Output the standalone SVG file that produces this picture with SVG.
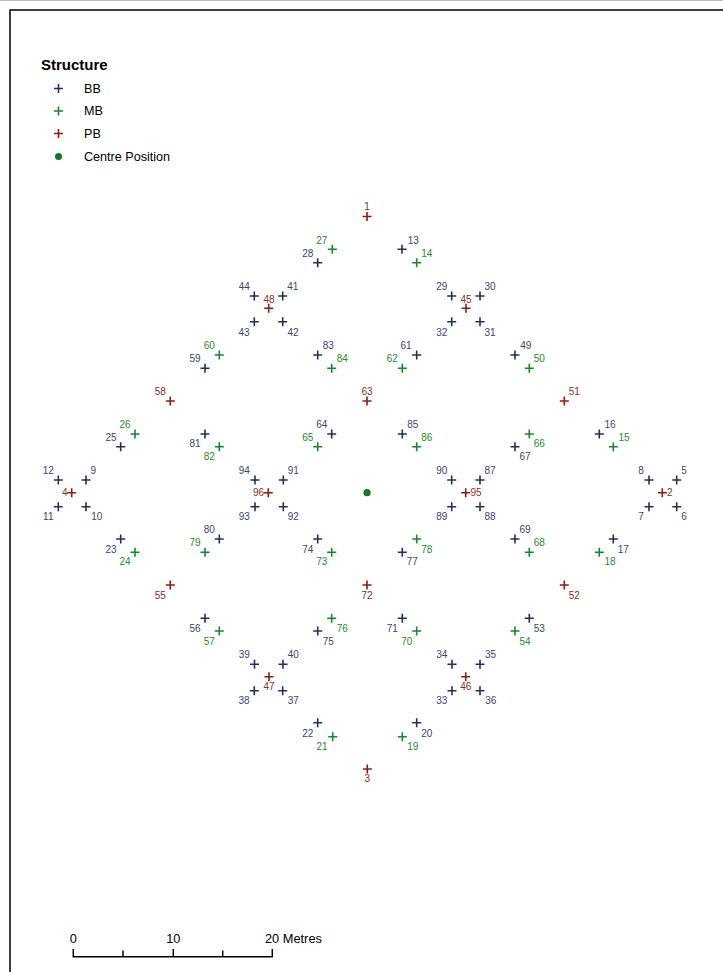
<svg xmlns="http://www.w3.org/2000/svg" xmlns:xlink="http://www.w3.org/1999/xlink" width="723" height="972" viewBox="0 0 723 972">
<style>
.bg{fill:#ffffff}
.frame{fill:none;stroke:#000;stroke-width:1.5}
.bb{stroke:#22305e;stroke-width:1.6;fill:none}
.mb{stroke:#17882a;stroke-width:1.6;fill:none}
.pb{stroke:#8a1c10;stroke-width:1.6;fill:none}
.t{font-family:"Liberation Sans",Arial,sans-serif;font-size:10px;text-anchor:middle}
.s{text-anchor:start}
.e{text-anchor:end}
.tb{fill:#3a4670}
.tm{fill:#2a8a2c}
.tp{fill:#8a3020}
.leg{font-family:"Liberation Sans",Arial,sans-serif;font-size:12.6px;fill:#000}
.title{font-family:"Liberation Sans",Arial,sans-serif;font-size:15px;font-weight:bold;fill:#000}
.scale{stroke:#000;stroke-width:1.5;fill:none}
.stxt{font-family:"Liberation Sans",Arial,sans-serif;font-size:12.8px;fill:#000}
</style>
<defs>
<path id="x" d="M-4.5,0H4.5M0,-4.5V4.5"/>
</defs>
<rect class="bg" x="0" y="0" width="723" height="972"/>
<line x1="0" y1="0.5" x2="723" y2="0.5" stroke="#c0c0c0" stroke-width="1"/>
<rect class="frame" x="10" y="10" width="760" height="1000"/>

<g id="legend">
<text class="title" x="41" y="70">Structure</text>
<use href="#x" class="bb" x="58.5" y="88.5"/>
<text class="leg" x="84" y="92.7">BB</text>
<use href="#x" class="mb" x="58.5" y="111"/>
<text class="leg" x="84" y="115.2">MB</text>
<use href="#x" class="pb" x="58.5" y="133.5"/>
<text class="leg" x="84" y="137.7">PB</text>
<circle cx="58.5" cy="156.5" r="3.5" fill="#0d7a2a"/>
<text class="leg" x="84" y="160.7">Centre Position</text>
</g>

<g id="connectors"></g>

<g id="centre"><circle cx="367" cy="492.7" r="3.6" fill="#0d7a2a"/></g>

<!-- PB -->
<g id="n1"><use href="#x" class="pb" x="367" y="216.5"/><text class="t tp" x="367" y="210">1</text></g>
<g id="n2"><use href="#x" class="pb" x="662.3" y="492.7"/><text class="t tp s" x="667" y="496.3">2</text></g>
<g id="n3"><use href="#x" class="pb" x="367.3" y="769"/><text class="t tp" x="367.3" y="782">3</text></g>
<g id="n4"><use href="#x" class="pb" x="71.7" y="492.7"/><text class="t tp e" x="67.5" y="496.3">4</text></g>
<g id="n45"><use href="#x" class="pb" x="466" y="308.3"/><text class="t tp" x="466" y="302.9">45</text></g>
<g id="n46"><use href="#x" class="pb" x="465.7" y="676.7"/><text class="t tp" x="465.7" y="690.3">46</text></g>
<g id="n47"><use href="#x" class="pb" x="269" y="676.7"/><text class="t tp" x="269" y="690.3">47</text></g>
<g id="n48"><use href="#x" class="pb" x="268.7" y="308.3"/><text class="t tp" x="269" y="302.9">48</text></g>
<g id="n51"><use href="#x" class="pb" x="564.3" y="401"/><text class="t tp" x="574.3" y="394.6">51</text></g>
<g id="n52"><use href="#x" class="pb" x="564.3" y="585"/><text class="t tp" x="574.3" y="598.6">52</text></g>
<g id="n55"><use href="#x" class="pb" x="170.3" y="585"/><text class="t tp" x="160.3" y="598.6">55</text></g>
<g id="n58"><use href="#x" class="pb" x="170.3" y="401"/><text class="t tp" x="160.3" y="394.6">58</text></g>
<g id="n63"><use href="#x" class="pb" x="367" y="401"/><text class="t tp" x="367" y="394.6">63</text></g>
<g id="n72"><use href="#x" class="pb" x="367" y="585"/><text class="t tp" x="367" y="598.6">72</text></g>
<g id="n95"><use href="#x" class="pb" x="465.7" y="492.7"/><text class="t tp s" x="470.5" y="496.3">95</text></g>
<g id="n96"><use href="#x" class="pb" x="268.3" y="492.7"/><text class="t tp e" x="264" y="496.3">96</text></g>

<!-- BB -->
<g id="n5"><use href="#x" class="bb" x="676.7" y="480"/><text class="t tb" x="684" y="473.6">5</text></g>
<g id="n6"><use href="#x" class="bb" x="676.7" y="506.7"/><text class="t tb" x="684" y="520.3">6</text></g>
<g id="n7"><use href="#x" class="bb" x="649" y="506.7"/><text class="t tb" x="641" y="520.3">7</text></g>
<g id="n8"><use href="#x" class="bb" x="649" y="480"/><text class="t tb" x="641" y="473.6">8</text></g>
<g id="n9"><use href="#x" class="bb" x="86" y="480"/><text class="t tb" x="93.3" y="473.6">9</text></g>
<g id="n10"><use href="#x" class="bb" x="86" y="506.7"/><text class="t tb" x="96.7" y="520.3">10</text></g>
<g id="n11"><use href="#x" class="bb" x="58.3" y="506.7"/><text class="t tb" x="48.3" y="520.3">11</text></g>
<g id="n12"><use href="#x" class="bb" x="58.3" y="480"/><text class="t tb" x="48.3" y="473.6">12</text></g>
<g id="n13"><use href="#x" class="bb" x="402" y="249.3"/><text class="t tb" x="413.3" y="243.6">13</text></g>
<g id="n16"><use href="#x" class="bb" x="599.3" y="434"/><text class="t tb" x="610" y="427.9">16</text></g>
<g id="n17"><use href="#x" class="bb" x="613.3" y="539"/><text class="t tb" x="623.3" y="552.9">17</text></g>
<g id="n20"><use href="#x" class="bb" x="416.7" y="722.7"/><text class="t tb" x="426.7" y="736.9">20</text></g>
<g id="n22"><use href="#x" class="bb" x="317.7" y="722.7"/><text class="t tb" x="307.7" y="736.9">22</text></g>
<g id="n23"><use href="#x" class="bb" x="120.7" y="539"/><text class="t tb" x="111" y="552.9">23</text></g>
<g id="n25"><use href="#x" class="bb" x="120.7" y="446.7"/><text class="t tb" x="111" y="440.9">25</text></g>
<g id="n28"><use href="#x" class="bb" x="317.7" y="262.7"/><text class="t tb" x="307.7" y="256.9">28</text></g>
<g id="n29"><use href="#x" class="bb" x="451.7" y="296"/><text class="t tb" x="441.7" y="290.3">29</text></g>
<g id="n30"><use href="#x" class="bb" x="480" y="296"/><text class="t tb" x="490" y="290.3">30</text></g>
<g id="n31"><use href="#x" class="bb" x="480" y="321.7"/><text class="t tb" x="490" y="335.6">31</text></g>
<g id="n32"><use href="#x" class="bb" x="451.7" y="321.7"/><text class="t tb" x="441.7" y="335.6">32</text></g>
<g id="n33"><use href="#x" class="bb" x="452" y="690.7"/><text class="t tb" x="441.7" y="704.3">33</text></g>
<g id="n34"><use href="#x" class="bb" x="452" y="664.3"/><text class="t tb" x="441.7" y="658.3">34</text></g>
<g id="n35"><use href="#x" class="bb" x="480" y="664.3"/><text class="t tb" x="490.5" y="658.3">35</text></g>
<g id="n36"><use href="#x" class="bb" x="480" y="690.7"/><text class="t tb" x="490.7" y="704.3">36</text></g>
<g id="n37"><use href="#x" class="bb" x="282.7" y="690.7"/><text class="t tb" x="293.3" y="704.3">37</text></g>
<g id="n38"><use href="#x" class="bb" x="254.3" y="690.7"/><text class="t tb" x="244" y="704.3">38</text></g>
<g id="n39"><use href="#x" class="bb" x="254.5" y="664.3"/><text class="t tb" x="244.2" y="658.3">39</text></g>
<g id="n40"><use href="#x" class="bb" x="283" y="664.3"/><text class="t tb" x="293.3" y="658.3">40</text></g>
<g id="n41"><use href="#x" class="bb" x="282.7" y="296"/><text class="t tb" x="292.7" y="290.3">41</text></g>
<g id="n42"><use href="#x" class="bb" x="282.7" y="321.7"/><text class="t tb" x="293" y="335.6">42</text></g>
<g id="n43"><use href="#x" class="bb" x="254.3" y="321.7"/><text class="t tb" x="244" y="335.6">43</text></g>
<g id="n44"><use href="#x" class="bb" x="254.3" y="296"/><text class="t tb" x="244.3" y="290.3">44</text></g>
<g id="n49"><use href="#x" class="bb" x="515" y="355"/><text class="t tb" x="525.7" y="348.6">49</text></g>
<g id="n53"><use href="#x" class="bb" x="529.3" y="618.3"/><text class="t tb" x="539.3" y="631.9">53</text></g>
<g id="n56"><use href="#x" class="bb" x="205" y="618.3"/><text class="t tb" x="195" y="631.9">56</text></g>
<g id="n59"><use href="#x" class="bb" x="205" y="368.3"/><text class="t tb" x="195" y="361.9">59</text></g>
<g id="n61"><use href="#x" class="bb" x="416.7" y="355"/><text class="t tb" x="406" y="348.6">61</text></g>
<g id="n64"><use href="#x" class="bb" x="331.7" y="434"/><text class="t tb" x="321.7" y="427.9">64</text></g>
<g id="n67"><use href="#x" class="bb" x="515" y="446.7"/><text class="t tb" x="525" y="459.6">67</text></g>
<g id="n69"><use href="#x" class="bb" x="515" y="539"/><text class="t tb" x="525" y="532.9">69</text></g>
<g id="n71"><use href="#x" class="bb" x="402.3" y="618.3"/><text class="t tb" x="392.3" y="631.9">71</text></g>
<g id="n74"><use href="#x" class="bb" x="317.7" y="539"/><text class="t tb" x="307.7" y="552.9">74</text></g>
<g id="n75"><use href="#x" class="bb" x="317.7" y="631"/><text class="t tb" x="328.3" y="644.6">75</text></g>
<g id="n77"><use href="#x" class="bb" x="402.3" y="552.3"/><text class="t tb" x="412.3" y="565.3">77</text></g>
<g id="n80"><use href="#x" class="bb" x="219.3" y="539"/><text class="t tb" x="209.3" y="532.9">80</text></g>
<g id="n81"><use href="#x" class="bb" x="205" y="434"/><text class="t tb" x="195" y="446.9">81</text></g>
<g id="n83"><use href="#x" class="bb" x="317.7" y="355"/><text class="t tb" x="328.3" y="348.6">83</text></g>
<g id="n85"><use href="#x" class="bb" x="402.3" y="434"/><text class="t tb" x="412.7" y="427.9">85</text></g>
<g id="n87"><use href="#x" class="bb" x="480" y="480"/><text class="t tb" x="490" y="473.6">87</text></g>
<g id="n88"><use href="#x" class="bb" x="480" y="506.7"/><text class="t tb" x="490" y="520.3">88</text></g>
<g id="n89"><use href="#x" class="bb" x="451.7" y="506.7"/><text class="t tb" x="441.7" y="520.3">89</text></g>
<g id="n90"><use href="#x" class="bb" x="451.7" y="480"/><text class="t tb" x="441.7" y="473.6">90</text></g>
<g id="n91"><use href="#x" class="bb" x="283.3" y="480"/><text class="t tb" x="293.3" y="473.6">91</text></g>
<g id="n92"><use href="#x" class="bb" x="283.3" y="506.7"/><text class="t tb" x="293.3" y="520.3">92</text></g>
<g id="n93"><use href="#x" class="bb" x="255" y="506.7"/><text class="t tb" x="244.3" y="520.3">93</text></g>
<g id="n94"><use href="#x" class="bb" x="255" y="480"/><text class="t tb" x="244.3" y="473.6">94</text></g>

<!-- MB -->
<g id="n14"><use href="#x" class="mb" x="416.7" y="262.7"/><text class="t tm" x="426.7" y="256.9">14</text></g>
<g id="n15"><use href="#x" class="mb" x="613.3" y="446.7"/><text class="t tm" x="624" y="440.9">15</text></g>
<g id="n18"><use href="#x" class="mb" x="599.3" y="552.3"/><text class="t tm" x="610" y="565.3">18</text></g>
<g id="n19"><use href="#x" class="mb" x="402.3" y="736.7"/><text class="t tm" x="412.7" y="750.3">19</text></g>
<g id="n21"><use href="#x" class="mb" x="332.7" y="736.7"/><text class="t tm" x="322" y="750.3">21</text></g>
<g id="n24"><use href="#x" class="mb" x="135" y="552.3"/><text class="t tm" x="125" y="565.3">24</text></g>
<g id="n26"><use href="#x" class="mb" x="135" y="434"/><text class="t tm" x="125" y="427.9">26</text></g>
<g id="n27"><use href="#x" class="mb" x="332.3" y="249.3"/><text class="t tm" x="321.7" y="243.6">27</text></g>
<g id="n50"><use href="#x" class="mb" x="529.3" y="368.3"/><text class="t tm" x="539.3" y="361.9">50</text></g>
<g id="n54"><use href="#x" class="mb" x="515" y="631"/><text class="t tm" x="525" y="644.6">54</text></g>
<g id="n57"><use href="#x" class="mb" x="219.3" y="631"/><text class="t tm" x="209.3" y="644.6">57</text></g>
<g id="n60"><use href="#x" class="mb" x="219.3" y="355"/><text class="t tm" x="209.3" y="348.6">60</text></g>
<g id="n62"><use href="#x" class="mb" x="402.3" y="368.3"/><text class="t tm" x="392.3" y="361.9">62</text></g>
<g id="n65"><use href="#x" class="mb" x="317.7" y="446.7"/><text class="t tm" x="307.7" y="440.9">65</text></g>
<g id="n66"><use href="#x" class="mb" x="529.3" y="434"/><text class="t tm" x="539.3" y="446.9">66</text></g>
<g id="n68"><use href="#x" class="mb" x="529.3" y="552.3"/><text class="t tm" x="539.3" y="546.3">68</text></g>
<g id="n70"><use href="#x" class="mb" x="416.7" y="631"/><text class="t tm" x="406.7" y="644.6">70</text></g>
<g id="n73"><use href="#x" class="mb" x="331.7" y="552.3"/><text class="t tm" x="321.7" y="565.3">73</text></g>
<g id="n76"><use href="#x" class="mb" x="331.7" y="618.3"/><text class="t tm" x="342.3" y="631.9">76</text></g>
<g id="n78"><use href="#x" class="mb" x="416.7" y="539"/><text class="t tm" x="426.7" y="552.9">78</text></g>
<g id="n79"><use href="#x" class="mb" x="205" y="552.3"/><text class="t tm" x="195" y="546.3">79</text></g>
<g id="n82"><use href="#x" class="mb" x="219.3" y="446.7"/><text class="t tm" x="209.3" y="459.6">82</text></g>
<g id="n84"><use href="#x" class="mb" x="331.7" y="368.3"/><text class="t tm" x="342.3" y="361.9">84</text></g>
<g id="n86"><use href="#x" class="mb" x="416.7" y="446.7"/><text class="t tm" x="426.7" y="440.9">86</text></g>

<g id="scalebar">
<path class="scale" d="M73.3,949V956.7H272.3V949M123,950.5V956.7M173.3,949V956.7M222.7,950.5V956.7"/>
<text class="stxt" x="73.3" y="943" text-anchor="middle">0</text>
<text class="stxt" x="173.3" y="943" text-anchor="middle">10</text>
<text class="stxt" x="265" y="943">20 Metres</text>
</g>
</svg>
